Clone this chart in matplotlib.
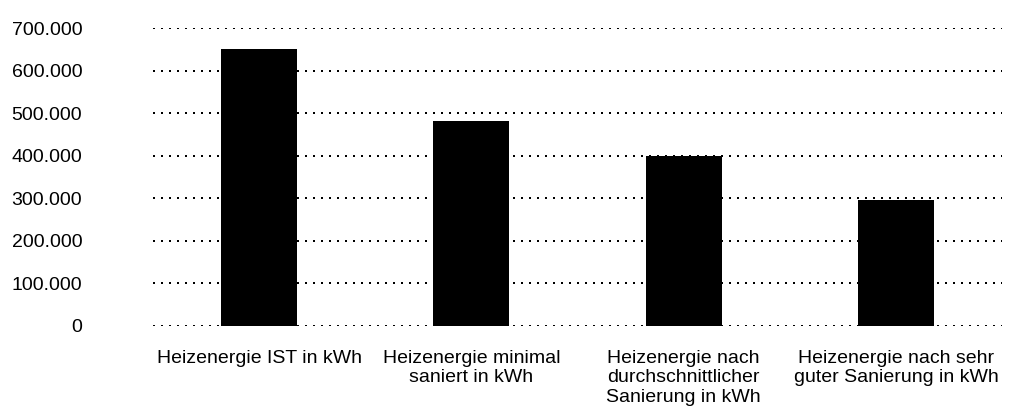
import matplotlib
matplotlib.use("Agg")
import matplotlib.pyplot as plt
from matplotlib.ticker import FuncFormatter

categories = [
    "Heizenergie IST in kWh",
    "Heizenergie minimal\nsaniert in kWh",
    "Heizenergie nach\ndurchschnittlicher\nSanierung in kWh",
    "Heizenergie nach sehr\nguter Sanierung in kWh",
]
values = [651000, 481000, 400000, 296000]
yticks = [0, 100000, 200000, 300000, 400000, 500000, 600000, 700000]

plt.rcParams['font.family'] = ['Liberation Sans', 'DejaVu Sans']

fig = plt.figure(figsize=(10.27, 4.08), dpi=100)
ax = fig.add_axes([153/1027, 1 - 326/408, (1002 - 153)/1027, (326 - 28)/408])

x = range(len(categories))
ax.bar(x, values, width=0.357, color="black", zorder=3)
ax.set_xlim(-0.5, len(categories) - 0.5)
ax.set_ylim(0, 700000)
ax.set_yticks(yticks)
ax.yaxis.set_major_formatter(FuncFormatter(lambda v, p: f"{int(v):,}".replace(",", ".")))
ax.set_xticks(list(x))
ax.set_xticklabels(categories, linespacing=1.2, va="top")

for t in yticks:
    ax.axhline(t, color="black", linewidth=1.44, linestyle=(0, (1, 3)),
               zorder=1, antialiased=False)

for s in ax.spines.values():
    s.set_visible(False)
ax.tick_params(axis="both", length=0, labelsize=14)
ax.tick_params(axis="y", pad=51)
ax.tick_params(axis="x", pad=17)

fig.savefig("out.png", dpi=100)
